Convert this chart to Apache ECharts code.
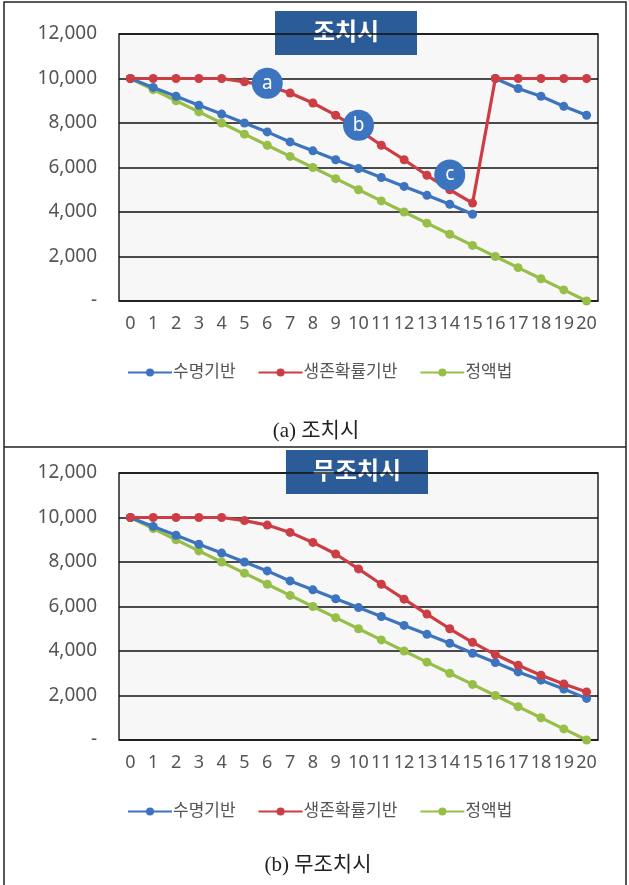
<!DOCTYPE html>
<html><head><meta charset="utf-8">
<script src="https://cdn.jsdelivr.net/npm/echarts@6/dist/echarts.min.js"></script>
<style>html,body{margin:0;padding:0;background:#fff}#c{width:629px;height:885px}</style>
</head><body><div id="c"></div>
<script>
const years = ['0','1','2','3','4','5','6','7','8','9','10','11','12','13','14','15','16','17','18','19','20'];
const seriesNames = ['수명기반','생존확률기반','정액법'];
const panelTitles = ['조치시','무조치시'];
const captions = ['(a) 조치시','(b) 무조치시'];
// panel (a) 조치시
const lifeA1 = [10000,9600,9200,8800,8400,8000,7600,7150,6750,6350,5950,5550,5150,4750,4350,3900,null,null,null,null,null];
const lifeA2 = [null,null,null,null,null,null,null,null,null,null,null,null,null,null,null,null,10000,9550,9200,8750,8350];
const survA  = [10000,10000,10000,10000,10000,9850,9680,9350,8900,8350,7700,7000,6350,5650,5000,4400,10000,10000,10000,10000,10000];
const flatA  = [10000,9500,9000,8500,8000,7500,7000,6500,6000,5500,5000,4500,4000,3500,3000,2500,2000,1500,1000,500,0];
// panel (b) 무조치시
const lifeB  = [10000,9600,9200,8800,8400,8000,7600,7150,6750,6350,5950,5550,5150,4750,4350,3900,3480,3060,2690,2290,1870];
const survB  = [10000,10000,10000,10000,10000,9860,9660,9330,8880,8360,7690,7000,6330,5660,5000,4390,3840,3360,2910,2520,2160];
const flatB  = [10000,9500,9000,8500,8000,7500,7000,6500,6000,5500,5000,4500,4000,3500,3000,2500,2000,1500,1000,500,0];
// annotation bubbles (category position, value)
const noteLabels = ['a','b','c'];
const noteX = [5.75, 10.15, 13.85];
const noteY = [9790, 7900, 5660];

const BLUE='#3D74BF', RED='#CC3D44', GREEN='#97BF48', BOX='#2B5C98';
const FONT='"Noto Sans","Noto Sans CJK KR",sans-serif';
const OFF = 439;

function grid(top){return {left:119,width:479,top:top,height:267,show:true,backgroundColor:'#F7F7F7',borderColor:'#222',borderWidth:1.5};}
function xAxis(i){return {type:'category',gridIndex:i,data:years,boundaryGap:true,
  axisLine:{show:false},axisTick:{show:false},
  axisLabel:{interval:0,margin:14,fontSize:18,color:'#555',fontFamily:FONT}};}
function yAxis(i){return {type:'value',gridIndex:i,min:0,max:12000,interval:2000,
  axisLine:{show:false},axisTick:{show:false},
  splitLine:{lineStyle:{color:'#111',width:1.5}},
  axisLabel:{margin:22,fontSize:19,color:'#555',fontFamily:FONT,
    formatter:v=>v===0?'-':v.toLocaleString('en-US')}};}
function line(name,data,color,gi,extra){return Object.assign({type:'line',name:name,data:data,xAxisIndex:gi,yAxisIndex:gi,
  symbol:'circle',symbolSize:9,showSymbol:true,connectNulls:false,
  lineStyle:{color:color,width:3.2},itemStyle:{color:color},emphasis:{disabled:true}},extra||{});}

const notes = noteLabels.map((l,i)=>({coord:[noteX[i],noteY[i]],value:l}));

const option = {
  animation:false,
  textStyle:{fontFamily:FONT},
  grid:[grid(34),grid(34+OFF)],
  xAxis:[xAxis(0),xAxis(1)],
  yAxis:[yAxis(0),yAxis(1)],
  legend:[0,1].map(i=>({data:seriesNames,left:122,top:359+i*OFF,itemWidth:44,itemHeight:10,itemGap:22,
    textStyle:{fontSize:17,color:'#555',fontFamily:FONT,padding:[0,0,0,-4]},selectedMode:false})),
  series:[
    line(seriesNames[2],flatA,GREEN,0,{z:2}),
    line(seriesNames[0],lifeA1,BLUE,0,{z:3}),
    line(seriesNames[0],lifeA2,BLUE,0,{z:3}),
    line(seriesNames[1],survA,RED,0,{z:4,markPoint:{symbol:'circle',symbolSize:31,
      itemStyle:{color:BLUE},label:{show:true,color:'#fff',fontSize:19,fontFamily:FONT,formatter:p=>p.value},
      data:notes}}),
    line(seriesNames[2],flatB,GREEN,1,{z:2}),
    line(seriesNames[0],lifeB,BLUE,1,{z:3}),
    line(seriesNames[1],survB,RED,1,{z:4})
  ],
  graphic:[
    {type:'rect',shape:{x:4,y:2,width:622,height:900},style:{fill:'none',stroke:'#222',lineWidth:1.5},z:0},
    {type:'line',shape:{x1:4,y1:447,x2:626,y2:447},style:{stroke:'#222',lineWidth:1.5}},
    ...[0,1].map(i=>({type:'group',z:100,children:[
      {type:'rect',shape:{x:(i?286:275),y:11+i*OFF,width:142,height:44},style:{fill:BOX}},
      {type:'text',x:(i?357:346),y:33+i*OFF,style:{text:panelTitles[i],fill:'#fff',fontSize:24,fontWeight:'bold',
        fontFamily:FONT,align:'center',verticalAlign:'middle'}}
    ]})),
    ...[0,1].map(i=>({type:'text',x:(i?318:316),y:431+i*434,style:{text:captions[i],fill:'#222',fontSize:21,
      fontFamily:'"Liberation Serif","Noto Sans CJK KR",serif',align:'center',verticalAlign:'middle'}}))
  ]
};
const chart = echarts.init(document.getElementById('c'),null,{renderer:'canvas'});
chart.setOption(option);
</script></body></html>
